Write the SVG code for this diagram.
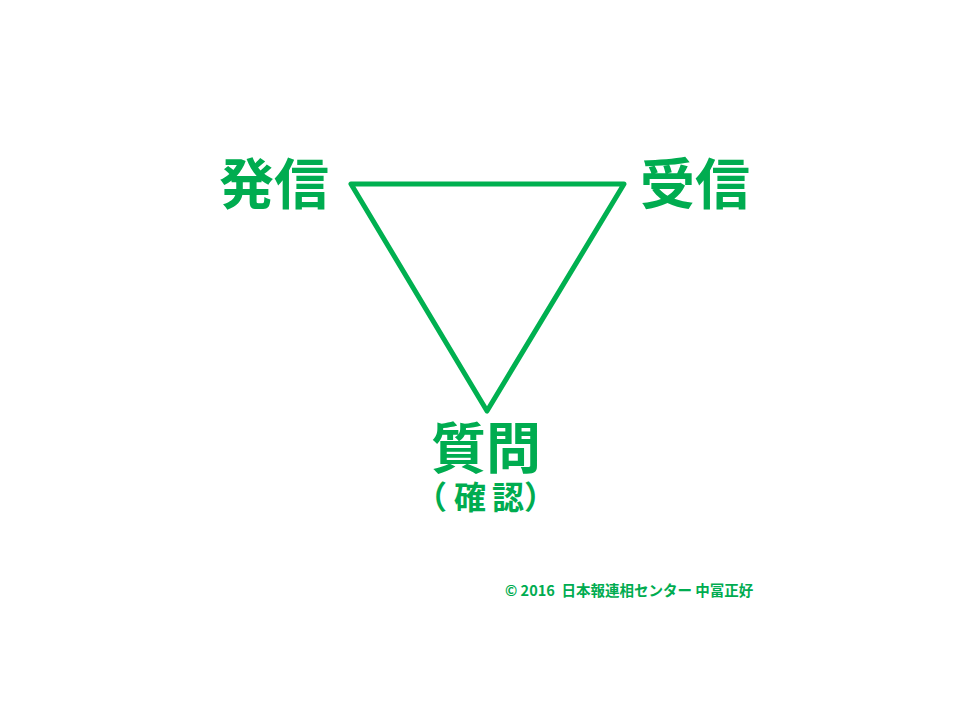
<svg xmlns="http://www.w3.org/2000/svg" width="960" height="720" viewBox="0 0 960 720">
<style>
.lbl{font-family:"Noto Sans CJK JP","Noto Sans CJK SC",sans-serif;font-weight:700;fill:#00AC50;}
.big{font-size:55px;}
.mid{font-size:32px;}
.foot{font-size:14.5px;}
.edge{fill:none;stroke:#00B050;stroke-width:5;stroke-linejoin:round;stroke-linecap:round;}
</style>
<rect width="960" height="720" fill="#fff"/>
<g id="connectors">
<polygon class="edge" points="351,184 624,184 487,411"/>
</g>
<g id="node-hasshin"><text class="lbl big" x="274" y="204" text-anchor="middle">発信</text></g>
<g id="node-jushin"><text class="lbl big" x="695" y="204" text-anchor="middle">受信</text></g>
<g id="node-shitsumon">
<text class="lbl big" x="486" y="468" text-anchor="middle">質問</text>
<text class="lbl mid" y="509" text-anchor="middle"><tspan x="431">（</tspan><tspan x="470">確</tspan><tspan x="508">認</tspan><tspan x="540">）</tspan></text>
</g>
<g id="footer"><text class="lbl foot" x="505" y="596" xml:space="preserve">© 2016  日本報連相センター 中冨正好</text></g>
</svg>
